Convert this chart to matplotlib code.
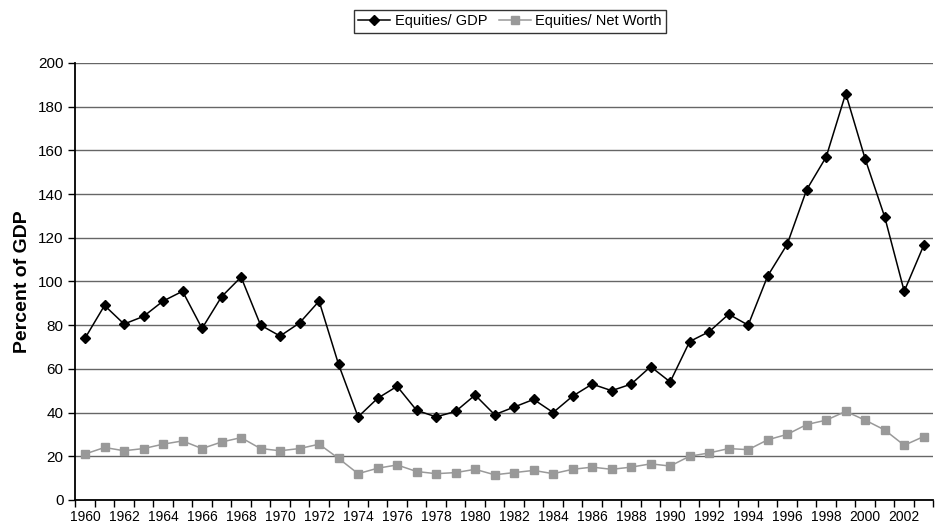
import matplotlib.pyplot as plt
import numpy as np

# Data
years = list(range(1960, 2004))
equities_gdp = [74, 89, 80.5, 84, 91, 95.5, 78.5, 93, 102, 80, 75, 81, 91, 62, 38,
                46.5, 52, 41, 38, 40.5, 48, 39, 42.5, 46, 40, 47.5, 53, 50, 53, 61,
                54, 72.5, 77, 85, 80, 102.5, 117, 142, 157, 186, 156, 129.5, 95.5, 116.5]
equities_nw = [21, 24, 22.5, 23.5, 25.5, 27, 23.5, 26.5, 28.5, 23.5, 22.5, 23.5, 25.5, 19, 12,
               14.5, 16, 13, 12, 12.5, 14, 11.5, 12.5, 13.5, 12, 14, 15, 14, 15, 16.5,
               15.5, 20, 21.5, 23.5, 23, 27.5, 30, 34.5, 36.5, 40.5, 36.5, 32, 25, 29]

plt.rcParams['font.family'] = ['Liberation Sans', 'DejaVu Sans']

fig = plt.figure(figsize=(9.41, 5.29), dpi=100)
ax = fig.add_axes([0.08, 0.055, 0.912, 0.826])

x = np.arange(len(years))
ax.plot(x, equities_gdp, color='black', marker='D', markersize=5, linewidth=1.1,
        label='Equities/ GDP')
ax.plot(x, equities_nw, color='#999999', marker='s', markersize=6, linewidth=1.1,
        label='Equities/ Net Worth')

ax.set_xlim(-0.5, len(years) - 0.5)
ax.set_ylim(0, 200)
ax.set_yticks(range(0, 201, 20))
ax.yaxis.grid(True, color='#666666', linewidth=1)
ax.set_axisbelow(True)

# labels at category centres, ticks at boundaries
ax.set_xticks(x[::2])
ax.set_xticklabels([str(y) for y in years[::2]])
ax.set_xticks(np.arange(-0.5, len(years), 1), minor=True)
ax.tick_params(axis='x', which='major', length=0, labelsize=10, pad=7)
ax.tick_params(axis='x', which='minor', length=5, width=1, direction='out')
ax.tick_params(axis='y', labelsize=11, length=5, width=1)

for s in ['top', 'right']:
    ax.spines[s].set_visible(False)
ax.spines['left'].set_linewidth(1.3)
ax.spines['bottom'].set_linewidth(1.3)

ax.set_ylabel('Percent of GDP', fontsize=14, fontweight='bold', labelpad=5)

leg = fig.legend(loc='upper center', bbox_to_anchor=(0.542, 0.995), ncol=2, frameon=True,
                 fancybox=False, edgecolor='black', fontsize=10.5, handlelength=2.2,
                 columnspacing=0.8, handletextpad=0.3, borderpad=0.3)
leg.get_frame().set_linewidth(1)

fig.savefig('out.png', dpi=100)
